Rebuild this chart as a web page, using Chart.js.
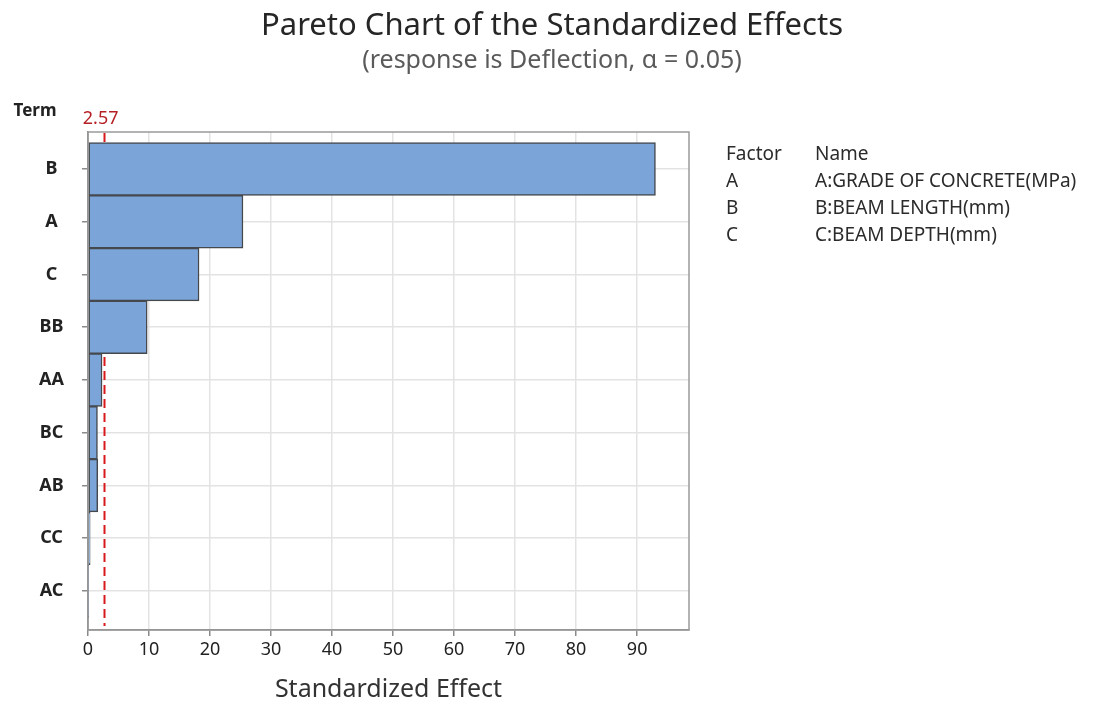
<!DOCTYPE html>
<html>
<head>
<meta charset="utf-8">
<script src="https://cdn.jsdelivr.net/npm/chart.js@4"></script>
<style>
  html, body { margin: 0; padding: 0; background: #fff; }
  #wrap { width: 1096px; height: 705px; position: relative; }
</style>
</head>
<body>
<div id="wrap"><canvas id="paretoChart"></canvas></div>
<script>
// terms in pareto order (top to bottom)
const terms = ["B", "A", "C", "BB", "AA", "BC", "AB", "CC", "AC"];
const effects = [93.0, 25.4, 18.2, 9.7, 2.3, 1.55, 1.6, 0.35, 0.05];
const xTicks = [0, 10, 20, 30, 40, 50, 60, 70, 80, 90];
const criticalValue = 2.57;
const factors = ["A", "B", "C"];
const factorNames = ["A:GRADE OF CONCRETE(MPa)", "B:BEAM LENGTH(mm)", "C:BEAM DEPTH(mm)"];

const FONT = "'Noto Sans', 'Open Sans', sans-serif";

// bars are placed at positions 1..n on a linear axis
const barData = effects.map((v, i) => ({ x: v, y: i + 1 }));

// frame, reference line and the text around the plot
const decorPlugin = {
  id: "decor",
  beforeDatasetsDraw(chart) {
    const ctx = chart.ctx;
    const area = chart.chartArea;
    const xs = chart.scales.x;
    const px = Math.round(xs.getPixelForValue(criticalValue)) + 0.5;
    ctx.save();
    ctx.strokeStyle = "#d7191c";
    ctx.lineWidth = 2;
    ctx.setLineDash([9, 5]);
    ctx.beginPath();
    ctx.moveTo(px, area.top + 1);
    ctx.lineTo(px, area.bottom - 4);
    ctx.stroke();
    ctx.restore();
  },
  afterDraw(chart) {
    const ctx = chart.ctx;
    const area = chart.chartArea;
    const xs = chart.scales.x;
    ctx.save();
    // plot frame
    ctx.strokeStyle = "#9a9a9a";
    ctx.lineWidth = 1.5;
    ctx.strokeRect(area.left, area.top, area.right - area.left, area.bottom - area.top);

    // titles
    ctx.textAlign = "center";
    ctx.textBaseline = "middle";
    ctx.fillStyle = "#262626";
    ctx.font = "31px " + FONT;
    ctx.fillText("Pareto Chart of the Standardized Effects", 552, 26);
    ctx.fillStyle = "#5a5a5a";
    ctx.font = "25px " + FONT;
    ctx.fillText("(response is Deflection, \u03b1 = 0.05)", 552, 61);

    // critical value label
    const px = xs.getPixelForValue(criticalValue);
    ctx.fillStyle = "#b52025";
    ctx.font = "18px " + FONT;
    ctx.fillText(criticalValue.toFixed(2), px - 3, 119);

    // axis caption for terms
    ctx.fillStyle = "#222";
    ctx.font = "bold 17px " + FONT;
    ctx.fillText("Term", 35, 111);

    // factor table
    ctx.textAlign = "left";
    ctx.fillStyle = "#2b2b2b";
    ctx.font = "19px " + FONT;
    ctx.fillText("Factor", 726, 155);
    ctx.fillText("Name", 815, 155);
    factors.forEach((f, i) => {
      const y = 182 + i * 27;
      ctx.fillText(f, 726, y);
      ctx.fillText(factorNames[i], 815, y);
    });
    ctx.restore();
  }
};

const ctx = document.getElementById("paretoChart").getContext("2d");
new Chart(ctx, {
  type: "bar",
  data: {
    datasets: [{
      data: barData,
      backgroundColor: "#7ba4d9",
      borderColor: "#45484d",
      borderWidth: 1.5,
      borderSkipped: false,
      barPercentage: 1,
      categoryPercentage: 1
    }]
  },
  options: {
    indexAxis: "y",
    responsive: true,
    maintainAspectRatio: false,
    animation: false,
    layout: { padding: { top: 132, right: 407, left: 0, bottom: 0 } },
    plugins: {
      legend: { display: false },
      tooltip: { enabled: false }
    },
    scales: {
      x: {
        type: "linear",
        min: 0,
        max: 98.5,
        afterBuildTicks: (s) => { s.ticks = xTicks.map(v => ({ value: v })); },
        afterFit: (s) => { s.height = 75; },
        grid: { color: "#e3e3e3", lineWidth: 1.5, tickColor: "#8a8a8a", tickLength: 6 },
        border: { display: true, color: "#8a8a8a", width: 1.5 },
        ticks: { color: "#222", font: { family: FONT, size: 18 }, padding: 3, maxRotation: 0 },
        title: {
          display: true,
          text: "Standardized Effect",
          color: "#333",
          font: { family: FONT, size: 25 },
          padding: { top: 6, bottom: 0 }
        }
      },
      y: {
        type: "linear",
        reverse: true,
        offset: false,
        min: 0.3,
        max: 9.74,
        afterBuildTicks: (s) => { s.ticks = terms.map((t, i) => ({ value: i + 1 })); },
        afterFit: (s) => { s.width = 88; },
        grid: { offset: false, color: "#e3e3e3", lineWidth: 1.5, tickColor: "#8a8a8a", tickLength: 6 },
        border: { display: true, color: "#8a8a8a", width: 1.5 },
        ticks: {
          color: "#222",
          font: { family: FONT, size: 18, weight: "bold" },
          padding: 18,
          crossAlign: "center",
          callback: (v) => terms[v - 1] || ""
        }
      }
    }
  },
  plugins: [decorPlugin]
});
</script>
</body>
</html>
